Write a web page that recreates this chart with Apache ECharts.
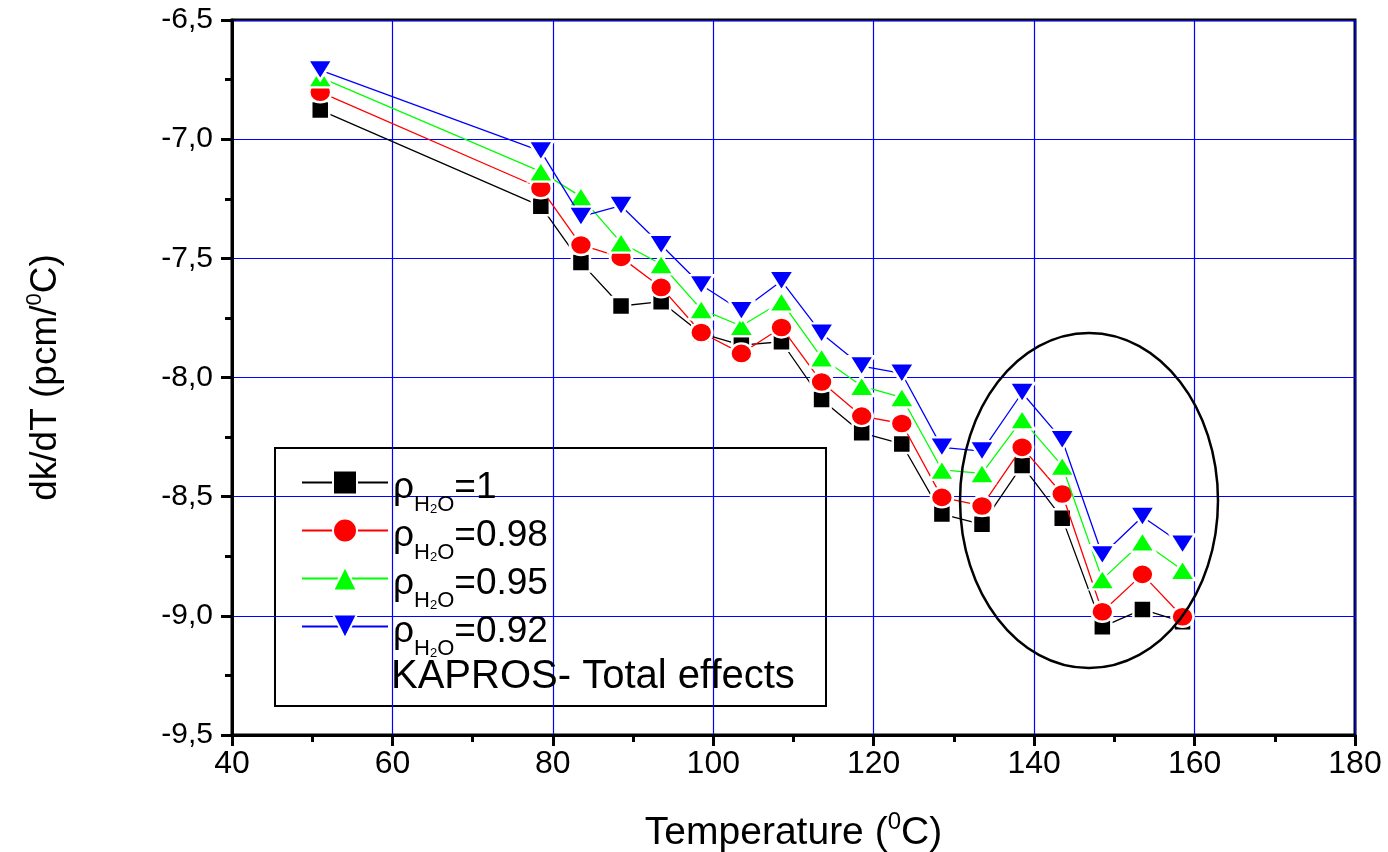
<!DOCTYPE html>
<html><head><meta charset="utf-8">
<script src="https://cdn.jsdelivr.net/npm/echarts@6/dist/echarts.min.js"></script>
<style>html,body{margin:0;padding:0;background:#fff}#c{width:1388px;height:852px}</style>
</head><body><div id="c"></div>
<script>
const temperatures = [51, 78.5, 83.5, 88.5, 93.5, 98.5, 103.5, 108.5, 113.5, 118.5, 123.5, 128.5, 133.5, 138.5, 143.5, 148.5, 153.5, 158.5];
const rho100 = [-6.878, -7.281, -7.518, -7.700, -7.682, -7.815, -7.864, -7.850, -8.092, -8.232, -8.279, -8.573, -8.616, -8.369, -8.591, -9.046, -8.973, -9.025];
const rho098 = [-6.803, -7.206, -7.444, -7.496, -7.622, -7.811, -7.899, -7.790, -8.019, -8.162, -8.193, -8.503, -8.539, -8.293, -8.489, -8.983, -8.826, -9.004];
const rho095 = [-6.741, -7.136, -7.241, -7.434, -7.525, -7.714, -7.784, -7.682, -7.917, -8.036, -8.083, -8.388, -8.402, -8.176, -8.371, -8.847, -8.689, -8.808];
const rho092 = [-6.710, -7.050, -7.325, -7.279, -7.444, -7.612, -7.720, -7.595, -7.815, -7.952, -7.983, -8.293, -8.309, -8.064, -8.262, -8.745, -8.584, -8.700];
const seriesNames = ['ρH2O=1', 'ρH2O=0.98', 'ρH2O=0.95', 'ρH2O=0.92'];
const legendValues = ['1', '0.98', '0.95', '0.92'];
const noteText = 'KAPROS- Total effects';
const xTitle = ['Temperature (', '0', 'C)'];
const yTitle = ['dk/dT (pcm/', '0', 'C)'];
// ellipse annotation in data units: center x, center y, radius x, radius y
const ellipseData = [146.84, -8.516, 16.08, 0.703];

const chart = echarts.init(document.getElementById('c'));
const pairs = v => temperatures.map((t, i) => [t, v[i]]);
const FONT = 'Liberation Sans, Arial, sans-serif';
const downTri = 'path://M0,0 L10,0 L5,8.5 Z';
const colors = ['#000000', '#ff0000', '#00ff00', '#0000ff'];
const symbols = ['rect', 'circle', 'triangle', downTri];
const sizes = [18, [22, 20], [25, 20], [25, 20]];
const datas = [rho100, rho098, rho095, rho092];

const series = datas.map((d, i) => ({
  name: seriesNames[i],
  type: 'line',
  data: pairs(d),
  symbol: symbols[i],
  symbolSize: sizes[i],
  showAllSymbol: true,
  z: 2 + i,
  lineStyle: { color: colors[i], width: 1.3 },
  itemStyle: { color: colors[i], borderColor: '#ffffff', borderWidth: 2.5 },
  emphasis: { disabled: true },
  animation: false
}));

const legendBox = { type: 'rect', z: 0, left: 274, top: 447, shape: { width: 551, height: 258 },
  style: { fill: '#ffffff', stroke: '#000', lineWidth: 2 } };
const noteEl = { type: 'text', z: 10, left: 391, top: 657,
  style: { text: noteText, fontSize: 40, fontFamily: FONT, fill: '#000' } };

const option = {
  animation: false,
  backgroundColor: '#ffffff',
  grid: { left: 232, right: 33, top: 20, bottom: 117, show: true, borderColor: '#000', borderWidth: 3,
    containLabel: false, outerBoundsMode: 'none' },
  xAxis: {
    type: 'value', min: 40, max: 180, interval: 20,
    axisLine: { show: true, lineStyle: { color: '#000', width: 3 } },
    axisTick: { show: true, inside: false, length: 11, lineStyle: { color: '#000', width: 3 } },
    minorTick: { show: true, splitNumber: 2, length: 7, lineStyle: { color: '#000', width: 3 } },
    splitLine: { show: true, lineStyle: { color: '#0000ff', width: 1.2 } },
    axisLabel: { color: '#000', fontSize: 32, fontFamily: FONT, margin: 13 },
    name: '{a|' + xTitle[0] + '}{s|' + xTitle[1] + '}{a|' + xTitle[2] + '}',
    nameLocation: 'middle', nameGap: 76,
    nameTextStyle: {
      rich: {
        a: { fontSize: 39, fontFamily: FONT, color: '#000', lineHeight: 42, verticalAlign: 'bottom' },
        s: { fontSize: 24, fontFamily: FONT, color: '#000', lineHeight: 24, padding: [0, 0, 19, 0], verticalAlign: 'bottom' }
      }
    }
  },
  yAxis: {
    type: 'value', min: -9.5, max: -6.5, interval: 0.5,
    axisLine: { show: true, lineStyle: { color: '#000', width: 3 } },
    axisTick: { show: true, inside: false, length: 11, lineStyle: { color: '#000', width: 3 } },
    minorTick: { show: true, splitNumber: 2, length: 7, lineStyle: { color: '#000', width: 3 } },
    splitLine: { show: true, lineStyle: { color: '#0000ff', width: 1.2 } },
    axisLabel: { color: '#000', fontSize: 30, fontFamily: FONT, margin: 19,
      formatter: v => v.toFixed(1).replace('.', ',') },
    name: '{a|' + yTitle[0] + '}{s|' + yTitle[1] + '}{a|' + yTitle[2] + '}',
    nameLocation: 'middle', nameGap: 168,
    nameTextStyle: {
      rich: {
        a: { fontSize: 37, fontFamily: FONT, color: '#000', lineHeight: 40, verticalAlign: 'bottom' },
        s: { fontSize: 22, fontFamily: FONT, color: '#000', lineHeight: 22, padding: [0, 0, 18, 0], verticalAlign: 'bottom' }
      }
    }
  },
  legend: {
    orient: 'vertical', left: 296, top: 444,
    itemWidth: 86, itemHeight: 30, itemGap: -19,
    selectedMode: false,
    data: seriesNames,
    formatter: name => {
      const i = seriesNames.indexOf(name);
      return '{r|ρ}{s|H}{ss|2}{s|O}{n|=' + legendValues[i] + '}';
    },
    textStyle: {
      rich: {
        r: { fontSize: 37, fontFamily: FONT, color: '#000', lineHeight: 67, verticalAlign: 'top', padding: [20, 0, 0, 0] },
        n: { fontSize: 37, fontFamily: FONT, color: '#000', lineHeight: 67, verticalAlign: 'top', padding: [20, 0, 0, 0] },
        s: { fontSize: 22, fontFamily: FONT, color: '#000', lineHeight: 10, verticalAlign: 'bottom', padding: [0, 0, 0, 0] },
        ss: { fontSize: 13, fontFamily: FONT, color: '#000', lineHeight: 6, verticalAlign: 'bottom', padding: [0, 0, 0, 0] }
      }
    }
  },
  graphic: [legendBox, noteEl],
  series: series
};
chart.setOption(option);

const c = chart.convertToPixel({ xAxisIndex: 0, yAxisIndex: 0 }, [ellipseData[0], ellipseData[1]]);
const e = chart.convertToPixel({ xAxisIndex: 0, yAxisIndex: 0 }, [ellipseData[0] + ellipseData[2], ellipseData[1] + ellipseData[3]]);
chart.setOption({
  graphic: [
    legendBox, noteEl,
    { type: 'ellipse', z: 20, shape: { cx: c[0], cy: c[1], rx: Math.abs(e[0] - c[0]), ry: Math.abs(e[1] - c[1]) },
      style: { fill: 'none', stroke: '#000', lineWidth: 2.5 } }
  ]
});
</script>
</body></html>
